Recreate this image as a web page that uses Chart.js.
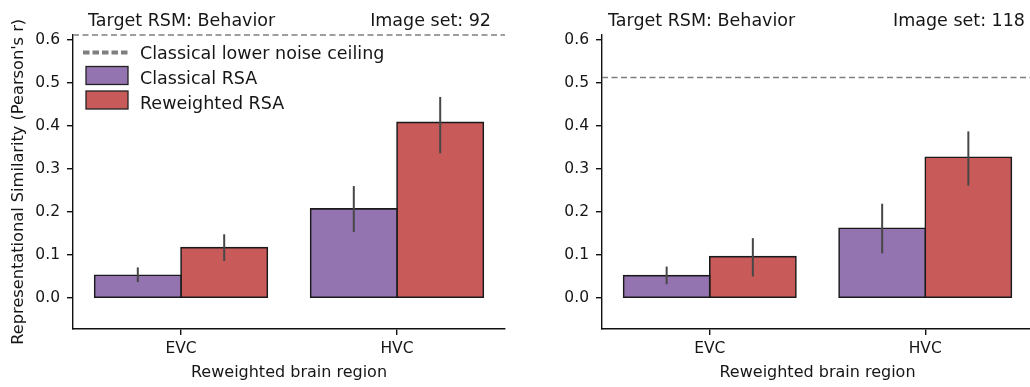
<!DOCTYPE html>
<html>
<head>
<meta charset="utf-8">
<script src="https://cdn.jsdelivr.net/npm/chart.js@4/dist/chart.umd.min.js"></script>
<style>
  html, body { margin: 0; padding: 0; background: #fff; overflow: hidden; }
  #wrap { position: relative; width: 1030px; height: 387px; overflow: hidden; }
  canvas { position: absolute; top: 0; }
  #c1 { left: 0; }
  #c2 { left: 520px; }
</style>
</head>
<body>
<div id="wrap">
  <canvas id="c1" width="520" height="387"></canvas>
  <canvas id="c2" width="525" height="387"></canvas>
</div>
<script>
/* ---- data ---- */
var regions = ['EVC', 'HVC'];
var yTicks = [0.0, 0.1, 0.2, 0.3, 0.4, 0.5, 0.6];
var seriesNames = ['Classical RSA', 'Reweighted RSA'];

// Image set 92
var classical92 = [0.053, 0.207];
var classical92Lo = [0.037, 0.153];
var classical92Hi = [0.071, 0.260];
var reweighted92 = [0.117, 0.408];
var reweighted92Lo = [0.086, 0.336];
var reweighted92Hi = [0.148, 0.467];
var ceiling92 = 0.611;

// Image set 118
var classical118 = [0.052, 0.162];
var classical118Lo = [0.032, 0.104];
var classical118Hi = [0.073, 0.219];
var reweighted118 = [0.096, 0.327];
var reweighted118Lo = [0.050, 0.261];
var reweighted118Hi = [0.139, 0.387];
var ceiling118 = 0.512;

/* ---- style ---- */
var PURPLE = '#9373b0';
var RED = '#c95a5a';
var INK = '#161616';
var FONT = "'DejaVu Sans', sans-serif";

Chart.defaults.font.family = FONT;
Chart.defaults.color = INK;

/* draws error bars, noise ceiling, corner titles and legend */
var overlay = {
  id: 'overlay',
  afterDatasetsDraw: function (chart, args, opts) {
    var ctx = chart.ctx;
    var area = chart.chartArea;
    var ys = chart.scales.y;
    ctx.save();

    // noise ceiling
    var cy = ys.getPixelForValue(opts.ceiling);
    ctx.strokeStyle = '#7f7f7f';
    ctx.lineWidth = 1.5;
    ctx.setLineDash([6, 3.5]);
    ctx.beginPath();
    ctx.moveTo(area.left, cy);
    ctx.lineTo(area.right, cy);
    ctx.stroke();
    ctx.setLineDash([]);

    // error bars
    ctx.strokeStyle = '#474747';
    ctx.lineWidth = 2;
    chart.data.datasets.forEach(function (ds, d) {
      var meta = chart.getDatasetMeta(d);
      meta.data.forEach(function (bar, i) {
        ctx.beginPath();
        ctx.moveTo(bar.x, ys.getPixelForValue(ds.errLo[i]));
        ctx.lineTo(bar.x, ys.getPixelForValue(ds.errHi[i]));
        ctx.stroke();
      });
    });

    // corner titles
    ctx.fillStyle = INK;
    ctx.font = '17.5px ' + FONT;
    ctx.textBaseline = 'alphabetic';
    ctx.textAlign = 'left';
    ctx.fillText(opts.titleLeft, area.left + opts.titleInsetL, 26);
    ctx.textAlign = 'right';
    ctx.fillText(opts.titleRight, area.right - opts.titleInsetR, 26);

    // legend
    if (opts.legend) {
      var lx = area.left;
      ctx.strokeStyle = '#7f7f7f';
      ctx.lineWidth = 4;
      ctx.setLineDash([6.5, 3]);
      ctx.beginPath();
      ctx.moveTo(lx + 10, 52.5);
      ctx.lineTo(lx + 57, 52.5);
      ctx.stroke();
      ctx.setLineDash([]);

      var colors = [PURPLE, RED];
      var tops = [66.5, 91];
      ctx.lineWidth = 1.3;
      ctx.strokeStyle = '#222';
      for (var k = 0; k < 2; k++) {
        ctx.fillStyle = colors[k];
        ctx.fillRect(lx + 13, tops[k], 42, 18);
        ctx.strokeRect(lx + 13, tops[k], 42, 18);
      }
      ctx.fillStyle = INK;
      ctx.textAlign = 'left';
      ctx.fillText('Classical lower noise ceiling', lx + 67, 59);
      ctx.fillText(seriesNames[0], lx + 67, 83.5);
      ctx.fillText(seriesNames[1], lx + 67, 108.5);
    }
    ctx.restore();
  }
};

function makePanel(canvasId, p) {
  var axisLine = { display: true, color: '#111', width: 1.4 };
  var tickGrid = { drawOnChartArea: false, drawTicks: true, tickLength: 6, color: '#111', lineWidth: 1.4 };

  return new Chart(document.getElementById(canvasId), {
    type: 'bar',
    data: {
      labels: regions,
      datasets: [
        {
          label: seriesNames[0],
          data: p.classical,
          errLo: p.classicalLo,
          errHi: p.classicalHi,
          backgroundColor: PURPLE,
          borderColor: '#1a1a1a',
          borderWidth: 1.6,
          borderSkipped: false,
          inflateAmount: 0.8
        },
        {
          label: seriesNames[1],
          data: p.reweighted,
          errLo: p.reweightedLo,
          errHi: p.reweightedHi,
          backgroundColor: RED,
          borderColor: '#1a1a1a',
          borderWidth: 1.6,
          borderSkipped: false,
          inflateAmount: 0.8
        }
      ]
    },
    options: {
      responsive: false,
      animation: false,
      categoryPercentage: 0.8,
      barPercentage: 1.0,
      layout: { padding: { top: 34.5, right: p.padRight, left: 0, bottom: 0 } },
      plugins: {
        legend: { display: false },
        tooltip: { enabled: false },
        overlay: {
          ceiling: p.ceiling,
          titleLeft: 'Target RSM: Behavior',
          titleRight: p.setLabel,
          titleInsetL: p.titleInsetL,
          titleInsetR: p.titleInsetR,
          legend: p.legend
        }
      },
      scales: {
        x: {
          offset: true,
          grid: Object.assign({ offset: false }, tickGrid),
          border: axisLine,
          ticks: { font: { size: 15.5 }, color: INK, padding: 5 },
          afterFit: function (s) { s.height = 58; },
          title: {
            display: true,
            text: 'Reweighted brain region',
            font: { size: 16 },
            color: INK,
            padding: { top: 0, bottom: 5 }
          }
        },
        y: {
          min: -0.072,
          max: 0.612,
          afterBuildTicks: function (s) {
            s.ticks = yTicks.map(function (v) { return { value: v }; });
          },
          afterFit: function (s) { s.width = p.yWidth; },
          grid: tickGrid,
          border: axisLine,
          ticks: {
            autoSkip: false,
            font: { size: 15.5 },
            color: INK,
            padding: 7,
            callback: function (v) { return Number(v).toFixed(1); }
          },
          title: {
            display: p.yTitle,
            text: "Representational Similarity (Pearson's r)",
            font: { size: 16.2 },
            color: INK,
            padding: { top: 9.5, bottom: 0 }
          }
        }
      }
    },
    plugins: [overlay]
  });
}

makePanel('c1', {
  classical: classical92, classicalLo: classical92Lo, classicalHi: classical92Hi,
  reweighted: reweighted92, reweightedLo: reweighted92Lo, reweightedHi: reweighted92Hi,
  ceiling: ceiling92, setLabel: 'Image set: 92',
  yWidth: 73, padRight: 15, yTitle: true, legend: true,
  titleInsetL: 15, titleInsetR: 14
});

makePanel('c2', {
  classical: classical118, classicalLo: classical118Lo, classicalHi: classical118Hi,
  reweighted: reweighted118, reweightedLo: reweighted118Lo, reweightedHi: reweighted118Hi,
  ceiling: ceiling118, setLabel: 'Image set: 118',
  yWidth: 82, padRight: 12, yTitle: false, legend: false,
  titleInsetL: 6, titleInsetR: 8
});
</script>
</body>
</html>
